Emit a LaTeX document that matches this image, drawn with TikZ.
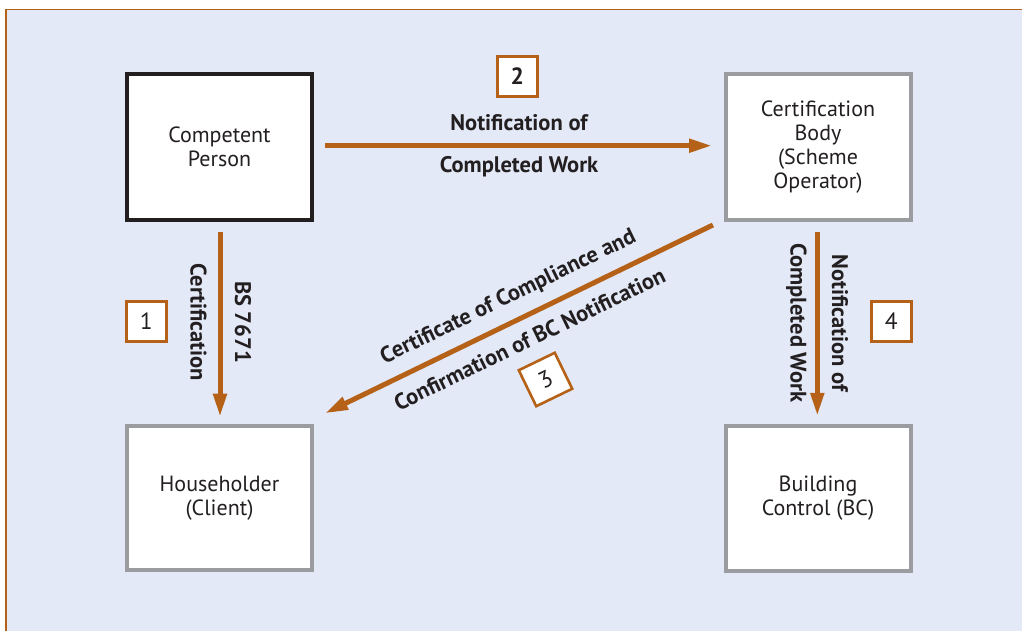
\documentclass[tikz,border=0pt]{standalone}
\usepackage{fontspec}
\setmainfont{PT Sans}
\usetikzlibrary{arrows.meta,calc}
\definecolor{bg}{RGB}{227,233,247}
\definecolor{org}{RGB}{181,98,24}
\definecolor{gry}{RGB}{155,156,160}
\definecolor{ink}{RGB}{35,31,32}
\begin{document}
\begin{tikzpicture}[x=1pt,y=-1pt,
  boxs/.style={draw=gry, line width=4pt, fill=white, minimum width=185pt,
    minimum height=146pt, inner sep=0pt, align=center, text=ink,
    font=\fontsize{22}{24}\selectfont},
  arr/.style={draw=org, line width=5pt, -{Triangle[length=23pt,width=13pt]}},
  lbl/.style={text=ink, inner sep=0pt, font=\fontsize{22.5}{24}\selectfont\bfseries},
  numbox/.style={draw=org, line width=2.6pt, fill=white, minimum size=40pt,
    inner sep=0pt, text=ink, font=\fontsize{23.5}{24}\selectfont}
]
\useasboundingbox (0,0) rectangle (1022,630);
\fill[white] (0,0) rectangle (1022,630);
\filldraw[fill=bg, draw=org, line width=1.4pt] (6,9.5) rectangle (1040,650);

% boxes
\node[boxs, draw=ink] (cp) at (219.5,147) {Competent\\Person};
\node[boxs] (cb) at (818,147) {Certification\\Body\\(Scheme\\Operator)};
\node[boxs, minimum height=144pt] (hh) at (219.5,498) {Householder\\(Client)};
\node[boxs, minimum height=145pt] (bc) at (818,498) {Building\\Control (BC)};

% arrows
\draw[arr] ($(cp.east)+(11,-1.3)$) -- ($(cb.west)+(-11.5,-1.3)$);
\draw[arr] ($(cp.south)+(0.5,9.7)$) -- ($(hh.north)+(0.5,-7.3)$);
\draw[arr] ($(cb.south)+(-0.7,10.3)$) -- ($(bc.north)+(-0.7,-7.7)$);
\draw[arr] ($(cb.south west)+(-10.6,3)$) -- ($(hh.north east)+(11,-10.7)$);

% labels
\node[lbl] (l2a) at (519,123) {Notification of};
\node[lbl] (l2b) at (519,167) {Completed Work};
\node[lbl, rotate=-90] (l1a) at (198.5,322.5) {Certification};
\node[lbl, rotate=-90] (l1b) at (243,322) {BS 7671};
\node[lbl, rotate=-90] (l4a) at (796.5,323) {Completed Work};
\node[lbl, rotate=-90] (l4b) at (840,323) {Notification of};
\node[lbl, rotate=25.9] (l3a) at (508.5,297.5) {Certificate of Compliance and};
\node[lbl, rotate=25.9] (l3b) at (529.5,339) {Confirmation of BC Notification};

% number boxes
\node[numbox, font=\fontsize{23.5}{24}\selectfont\bfseries] (n2) at (517.3,76.5) {2};
\node[numbox] (n1) at (146.3,321.3) {1};
\node[numbox, rotate=25.9] (n3) at (545.5,379.5) {3};
\node[numbox] (n4) at (891.3,321.3) {4};
\end{tikzpicture}
\end{document}
